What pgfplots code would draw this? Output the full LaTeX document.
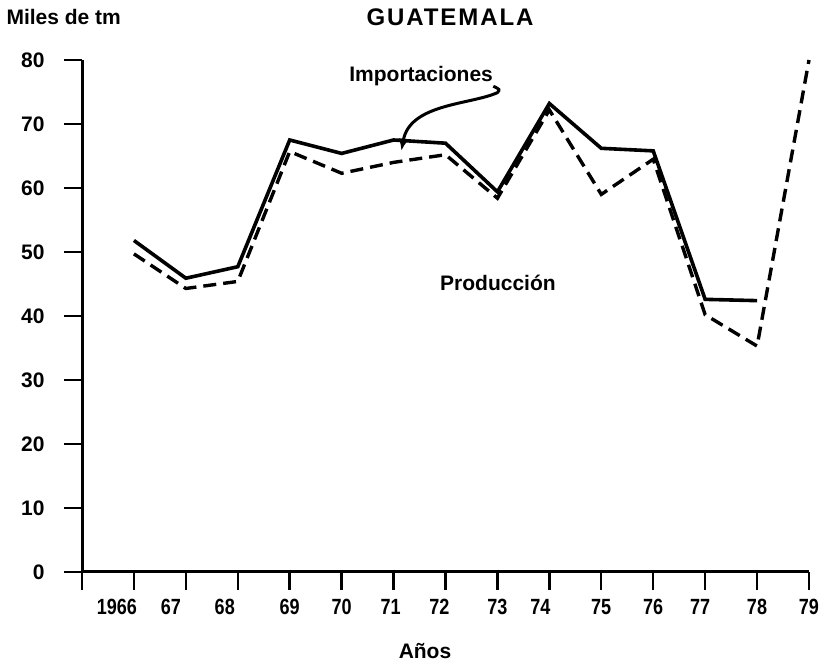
\documentclass[border=0pt]{standalone}
\usepackage{fontspec}
\setmainfont{Liberation Sans}
\newfontfamily\narrowf[FakeStretch=0.82]{Liberation Sans}
\newfontfamily\spacedf[LetterSpace=8]{Liberation Sans}
\usepackage{pgfplots}
\pgfplotsset{compat=1.18}
\usetikzlibrary{arrows.meta}
\newcommand{\lbl}{\fontsize{21}{24}\selectfont\bfseries}
\newcommand{\xl}[2]{\makebox[0pt][l]{\hspace*{#1}\makebox[0pt][c]{#2}}}
\begin{document}
\begin{tikzpicture}
\path[use as bounding box] (0,0) rectangle (829pt,671pt);
\begin{axis}[
  at={(82pt,99pt)}, anchor=south west,
  scale only axis, width=727pt, height=512pt,
  xmin=1965, xmax=1979, ymin=0, ymax=80,
  axis x line=bottom, axis y line=left,
  axis line style={-, line width=3pt},
  tick align=outside, major tick length=18pt,
  every tick/.style={black, line width=2.5pt},
  xtick={1965,...,1979},
  xticklabels={{},{\xl{-17pt}{1966}},{\xl{-15pt}{67}},{\xl{-13pt}{68}},69,70,{\xl{-3pt}{71}},{\xl{-6pt}{72}},73,{\xl{-9pt}{74}},75,76,{\xl{-5pt}{77}},78,79},
  ytick={0,10,...,80},
  /pgf/number format/assume math mode=true,
  xticklabel style={font=\narrowf\fontsize{22}{24}\selectfont\bfseries, yshift=-6pt},
  yticklabel style={font=\lbl, xshift=-16pt},
  clip=false,
]
\addplot[black, line width=3.6pt, line join=miter] coordinates {
 (1966,51.8) (1967,45.9) (1968,47.7) (1969,67.5) (1970,65.4) (1971,67.5)
 (1972,67.0) (1973,59.4) (1974,73.2) (1975,66.2) (1976,65.8) (1977,42.6) (1978,42.4)};
\addplot[black, line width=3.4pt, dash pattern=on 13pt off 7pt, line join=miter] coordinates {
 (1966,49.7) (1967,44.3) (1968,45.4) (1969,65.7) (1970,62.3) (1971,64.0)
 (1972,65.2) (1973,58.4) (1974,72.2) (1975,59.0) (1976,64.5) (1977,40.2) (1978,35.3) (1979,80.0)};
\node[font=\lbl] at (axis cs:1971.53,77.5) {Importaciones};
\node[font=\lbl] at (axis cs:1973.01,45.2) {Producción};
\draw[line width=3pt, -{Latex[length=12pt,width=10pt]}]
  (axis cs:1972.92,75.9) .. controls (axis cs:1973.05,75.4) .. (axis cs:1973.0,74.9)
  .. controls (axis cs:1972.48,73.0) and (axis cs:1971.32,73.2) .. (axis cs:1971.15,65.8);
\end{axis}
\node[font=\spacedf\fontsize{24}{26}\selectfont\bfseries] at (450pt,654pt) {GUATEMALA};
\node[font=\lbl, anchor=west] at (3pt,654pt) {Miles de tm};
\node[font=\lbl] at (425pt,20pt) {Años};
\end{tikzpicture}
\end{document}
